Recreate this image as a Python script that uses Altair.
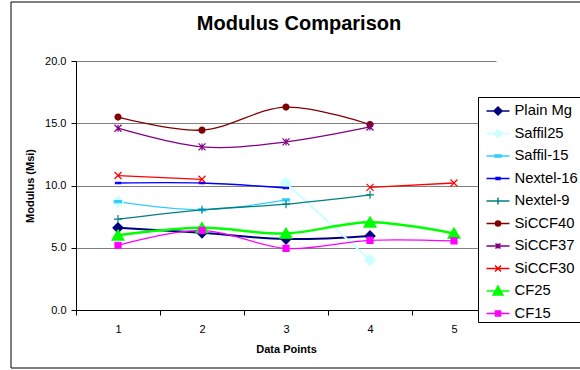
import altair as alt
import pandas as pd

# ---- data ----
x_points = [1, 2, 3, 4, 5]
series_names = ["Plain Mg", "Saffil25", "Saffil-15", "Nextel-16", "Nextel-9",
                "SiCCF40", "SiCCF37", "SiCCF30", "CF25", "CF15"]
plain_mg = [6.6, 6.2, 5.7, 5.95, None]
saffil25 = [8.7, None, 10.2, 4.0, None]
saffil15 = [8.7, 8.05, 8.85, None, None]
nextel16 = [10.2, 10.2, 9.8, None, None]
nextel9 = [7.3, 8.05, 8.5, 9.25, None]
siccf40 = [15.5, 14.45, 16.3, 14.9, None]
siccf37 = [14.6, 13.1, 13.5, 14.7, None]
siccf30 = [10.8, 10.5, None, 9.85, 10.2]
cf25 = [6.0, 6.6, 6.15, 7.05, 6.15]
cf15 = [5.2, 6.4, 4.95, 5.6, 5.55]
y_ticks = [0, 5, 10, 15, 20]

values = [plain_mg, saffil25, saffil15, nextel16, nextel9,
          siccf40, siccf37, siccf30, cf25, cf15]

# ---- styles ----
colors = ["#000080", "#CCFFFF", "#33CCFF", "#0000FF", "#008080",
          "#800000", "#800080", "#FF0000", "#00FF00", "#FF00FF"]
line_widths = [2, 2, 1.3, 1.3, 1.3, 1.3, 1.3, 1.3, 2.5, 1.3]
DIAMOND = "M0,-1L1,0L0,1L-1,0Z"
CIRCLE = "M-1,0A1,1 0 1,0 1,0A1,1 0 1,0 -1,0Z"
point_shapes = [DIAMOND, DIAMOND, "M-1,-0.3H1V0.3H-1Z", "M-1,-0.3H1V0.3H-1Z",
                "M-1,0H1M0,-1V1", CIRCLE, "M-1,-1L1,1M-1,1L1,-1M0,-1V1",
                "M-1,-1L1,1M-1,1L1,-1", "M0,-0.9L1,0.8L-1,0.8Z", "M-1,-1H1V1H-1Z"]
point_sizes = [100, 121, 49, 25, 64, 36, 49, 49, 144, 36]


def s(v):
    return f"{v:.3f}"


def legend_path(kind, h):
    line = "M-1,0H1"
    if kind == "diamond":
        m = f"M0,-{s(h)}L{s(h)},0L0,{s(h)}L-{s(h)},0Z"
    elif kind == "dash":
        m = f"M-{s(h)},-0.09H{s(h)}V0.09H-{s(h)}Z"
    elif kind == "plus":
        m = f"M0,-{s(h)}V{s(h)}"
    elif kind == "circle":
        m = f"M-{s(h)},0A{s(h)},{s(h)} 0 1,0 {s(h)},0A{s(h)},{s(h)} 0 1,0 -{s(h)},0Z"
    elif kind == "star":
        m = f"M-{s(h)},-{s(h)}L{s(h)},{s(h)}M-{s(h)},{s(h)}L{s(h)},-{s(h)}M0,-{s(h)}V{s(h)}"
    elif kind == "x":
        m = f"M-{s(h)},-{s(h)}L{s(h)},{s(h)}M-{s(h)},{s(h)}L{s(h)},-{s(h)}"
    elif kind == "triangle":
        m = f"M0,-{s(h)}L{s(h)},{s(h*0.8)}L-{s(h)},{s(h*0.8)}Z"
    else:
        m = f"M-{s(h)},-{s(h)}H{s(h)}V{s(h)}H-{s(h)}Z"
    return line + m


legend_shapes = [legend_path("diamond", 0.35), legend_path("diamond", 0.35),
                 legend_path("dash", 0.26), legend_path("dash", 0.17),
                 legend_path("plus", 0.3), legend_path("circle", 0.22),
                 legend_path("star", 0.22), legend_path("x", 0.26),
                 legend_path("triangle", 0.43), legend_path("square", 0.22)]

# marker keys (distinct from series names so marker scales stay out of the legend)
marker_keys = [f"{n}_mk" for n in series_names]

# ---- long table with segments (gaps break lines) ----
rows = []
for name, mk, vals in zip(series_names, marker_keys, values):
    seg = 0
    prev_none = True
    for xv, yv in zip(x_points, vals):
        if yv is None:
            prev_none = True
            continue
        if prev_none:
            seg += 1
        prev_none = False
        rows.append({"series": name, "marker": mk, "x": xv, "y": yv,
                     "seg": f"{name}-{seg}"})
df = pd.DataFrame(rows)

FONT = "Liberation Sans"
cscale = alt.Scale(domain=series_names, range=colors)

shape_expr = "'circle'"
for n, p in reversed(list(zip(series_names, legend_shapes))):
    shape_expr = f"datum.value === '{n}' ? '{p}' : ({shape_expr})"

x_enc = alt.X("x:Q", scale=alt.Scale(domain=[0.5, 5.5], nice=False, zero=False),
              title="Data Points",
              axis=alt.Axis(values=[0.5, 1, 1.5, 2, 2.5, 3, 3.5, 4, 4.5, 5, 5.5],
                            labelExpr="datum.value % 1 === 0 ? format(datum.value, 'd') : ''",
                            tickOpacity={"condition": {"test": "datum.value % 1 === 0", "value": 0}, "value": 1},
                            grid=False, labelAngle=0, labelPadding=8, titlePadding=9))
y_enc = alt.Y("y:Q", scale=alt.Scale(domain=[0, 20], nice=False),
              title="Modulus (Msi)",
              axis=alt.Axis(values=y_ticks, format=".1f", grid=True, labelPadding=5,
                            titlePadding=9))

leg = alt.Legend(title=None, orient="none", legendX=402, legendY=36,
                 padding=1.5, strokeColor="#000000", fillColor="#FFFFFF",
                 symbolSize=529, symbolOffset=6, labelOffset=4,
                 rowPadding=2.5, labelFontSize=14.8, labelFont=FONT,
                 labelLimit=200, symbolStrokeWidth=1.5,
                 symbolType={"expr": shape_expr})

lines = alt.Chart(df).mark_line(interpolate="cardinal").encode(
    x=x_enc, y=y_enc,
    color=alt.Color("series:N", scale=cscale, legend=leg),
    strokeWidth=alt.StrokeWidth("marker:N", scale=alt.Scale(type="ordinal", domain=marker_keys, range=line_widths), legend=None),
    detail="seg:N",
)

points = alt.Chart(df).mark_point(filled=True, opacity=1, strokeWidth=1.2).encode(
    x="x:Q", y="y:Q",
    color=alt.Color("series:N", scale=cscale, legend=leg),
    stroke=alt.Stroke("series:N", scale=cscale, legend=leg),
    shape=alt.Shape("marker:N", scale=alt.Scale(domain=marker_keys, range=point_shapes), legend=None),
    size=alt.Size("marker:N", scale=alt.Scale(type="ordinal", domain=marker_keys, range=point_sizes), legend=None),
)

frame = alt.Chart(alt.Data(values=[{"f": 1}])).mark_rect(
    filled=False, stroke="#000000", strokeWidth=1
).encode(x=alt.value(-65), x2=alt.value(530), y=alt.value(-59), y2=alt.value(307))

chart = alt.layer(frame, lines, points).properties(
    width=420, height=249,
    title=alt.TitleParams("Modulus Comparison", fontSize=20, fontWeight="bold", font=FONT,
                          anchor="middle", frame="group", offset=-48.5, dx=13, color="#000000",
                          baseline="alphabetic"),
    autosize=alt.AutoSizeParams(type="none"),
    padding={"left": 76, "top": 61, "right": 84, "bottom": 60},
).configure_view(stroke=None).configure_axis(
    labelFont=FONT, titleFont=FONT, labelFontSize=11, titleFontSize=11,
    titleFontWeight="bold", labelColor="#000000", titleColor="#000000",
    domainColor="#000000", tickColor="#000000", tickSize=5, gridColor="#808080",
    gridWidth=1, domainWidth=1
)

chart.save("out.html", embed_options={"renderer": "svg", "actions": False})
